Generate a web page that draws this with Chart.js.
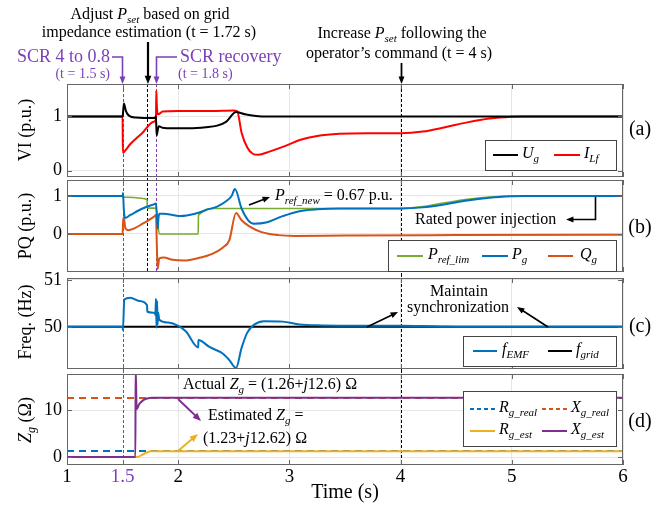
<!DOCTYPE html>
<html>
<head>
<meta charset="utf-8">
<script src="https://cdn.jsdelivr.net/npm/chart.js@4.4.1/dist/chart.umd.min.js"></script>
<style>
  body { margin: 0; background: #fff; }
  #wrap { position: relative; width: 666px; height: 508px; }
  canvas { position: absolute; left: 0; }
</style>
</head>
<body>
<div id="wrap">
  <canvas id="pa" width="666" height="178" style="top:0px"></canvas>
  <canvas id="pb" width="666" height="96" style="top:178px"></canvas>
  <canvas id="pc" width="666" height="108" style="top:262px"></canvas>
  <canvas id="pd" width="666" height="138" style="top:370px"></canvas>
</div>
<script>
// shared time axis
const timeTicks = [1, 1.5, 2, 3, 4, 5, 6];
const eventTimes = [1.5, 1.72, 1.8, 4];

// (a) voltage / current
const ugT = [1, 1.5, 1.506, 1.512, 1.53, 1.56, 1.62, 1.79, 1.8, 1.806, 1.812, 1.825, 1.86, 1.95, 2.1, 2.25, 2.35, 2.43, 2.52, 2.6, 2.7, 2.8, 3.0, 6];
const ugV = [1, 1, 1.12, 1.24, 1.1, 1.01, 0.98, 0.97, 1.0, 0.65, 0.7, 0.82, 0.79, 0.78, 0.78, 0.8, 0.83, 0.9, 1.08, 1.04, 1.01, 1.0, 1.0, 1.0];
const ilfT = [1, 1.5, 1.502, 1.52, 1.57, 1.68, 1.78, 1.8, 1.803, 1.806, 1.812, 1.82, 1.86, 2.0, 2.3, 2.5, 2.53, 2.57, 2.62, 2.67, 2.72, 2.82, 2.97, 3.1, 3.25, 3.45, 3.7, 4.0, 4.2, 4.4, 4.6, 4.8, 5.0, 5.1, 6];
const ilfV = [1, 1, 0.33, 0.36, 0.49, 0.7, 0.9, 0.94, 1.48, 1.3, 1.08, 1.04, 1.09, 1.1, 1.1, 1.11, 1.1, 0.7, 0.43, 0.31, 0.29, 0.35, 0.46, 0.57, 0.64, 0.68, 0.69, 0.69, 0.72, 0.8, 0.89, 0.96, 0.995, 1.0, 1.0];

// (b) active / reactive power
const pgT = [1, 1.5, 1.504, 1.51, 1.52, 1.57, 1.68, 1.78, 1.8, 1.808, 1.816, 1.822, 1.83, 1.87, 1.95, 2.02, 2.15, 2.28, 2.35, 2.43, 2.48, 2.51, 2.57, 2.63, 2.68, 2.79, 2.94, 3.09, 3.25, 3.45, 3.7, 4.0, 4.2, 4.4, 4.6, 4.8, 5.0, 5.1, 6];
const pgV = [1, 1, 1.08, 0.7, 0.42, 0.5, 0.67, 0.78, 0.8, 0.5, 0.14, 0.4, 0.53, 0.53, 0.5, 0.47, 0.53, 0.66, 0.72, 0.86, 1.0, 1.18, 0.67, 0.36, 0.27, 0.3, 0.47, 0.6, 0.65, 0.67, 0.67, 0.67, 0.7, 0.78, 0.88, 0.95, 0.99, 1.0, 1.0];
const prefT = [1, 1.5, 1.502, 1.72, 1.722, 1.8, 1.83, 2.18, 2.182, 2.33, 4.0, 4.2, 4.4, 4.6, 4.8, 4.98, 6];
const prefV = [1, 1, 0.97, 0.91, 0.68, 0.68, 0, 0, 0.49, 0.67, 0.67, 0.72, 0.82, 0.91, 0.97, 1.0, 1.0];
const qgT = [1, 1.5, 1.504, 1.51, 1.525, 1.55, 1.6, 1.68, 1.78, 1.8, 1.808, 1.815, 1.83, 1.87, 1.95, 2.05, 2.2, 2.3, 2.4, 2.46, 2.52, 2.57, 2.64, 2.75, 2.9, 3.05, 3.5, 4.5, 6];
const qgV = [0, 0, 0.3, 0.45, 0.15, 0.1, 0.14, 0.27, 0.45, 0.5, -0.3, -0.92, -0.64, -0.62, -0.68, -0.7, -0.62, -0.53, -0.36, -0.16, 0.55, 0.36, 0.2, 0.05, -0.03, -0.05, -0.04, -0.03, -0.02];

// (c) frequency
const femfT = [1, 1.5, 1.503, 1.515, 1.57, 1.65, 1.72, 1.722, 1.79, 1.795, 1.8, 1.805, 1.81, 1.815, 1.82, 1.83, 1.91, 2.0, 2.07, 2.18, 2.182, 2.28, 2.4, 2.46, 2.52, 2.57, 2.62, 2.68, 2.77, 2.94, 3.09, 3.3, 3.6, 4.0, 4.3, 4.6, 5.0, 6];
const femfV = [50, 50, 49.93, 50.58, 50.62, 50.55, 50.46, 50.32, 50.3, 50.25, 50.6, 49.98, 50.55, 50.05, 50.3, 50.15, 50.09, 50.02, 49.9, 49.56, 49.72, 49.57, 49.43, 49.29, 49.12, 49.55, 49.87, 50.04, 50.12, 50.11, 50.05, 50.03, 50.02, 50.02, 50.01, 50.0, 50.0, 50.0];
const fgridT = [1, 6];
const fgridV = [50, 50];

// (d) grid impedance
const rRealT = [1, 6];
const rRealV = [1.26, 1.26];
const xRealT = [1, 6];
const xRealV = [12.6, 12.6];
const rEstT = [1, 1.63, 1.69, 1.75, 6];
const rEstV = [0, 0, 0.65, 1.23, 1.23];
const xEstT = [1, 1.615, 1.617, 1.627, 1.65, 1.69, 1.73, 1.76, 6];
const xEstV = [0, 0, 19, 10.2, 11.3, 12.2, 12.55, 12.62, 12.62];

const SERIF = '"Liberation Serif", "Times New Roman", serif';
const PURPLE = '#7b3fb8';
const OFF = { pa: 0, pb: 178, pc: 262, pd: 370 };
const BAND = { pa: [84, 178], pb: [178, 274], pc: [274, 370], pd: [370, 508] };
Chart.defaults.font.family = SERIF;

function pts(t, v) { return t.map((x, i) => ({ x: x, y: v[i] })); }

// parts: [text, style] where style '' upright, 'i' italic, 's' italic subscript
function pfont(p, size) {
  const sub = p[1] === 's';
  const it = p[1] === 'i' || p[1] === 's';
  return (it ? 'italic ' : '') + (sub ? Math.round(size * 0.68) : size) + 'px ' + SERIF;
}
function rich(ctx, parts, x, y, size, align, color) {
  ctx.save();
  ctx.fillStyle = color || '#000';
  ctx.textBaseline = 'middle';
  ctx.textAlign = 'left';
  let w = 0;
  for (const p of parts) { ctx.font = pfont(p, size); w += ctx.measureText(p[0]).width; }
  let cx = align === 'center' ? x - w / 2 : (align === 'right' ? x - w : x);
  for (const p of parts) {
    ctx.font = pfont(p, size);
    ctx.fillText(p[0], cx, y + (p[1] === 's' ? size * 0.3 : 0));
    cx += ctx.measureText(p[0]).width;
  }
  ctx.restore();
}
function arrow(ctx, path, color, lw, head) {
  ctx.save();
  ctx.strokeStyle = color; ctx.fillStyle = color; ctx.lineWidth = lw; ctx.setLineDash([]);
  const n = path.length;
  const [x2, y2] = path[n - 1], [x1, y1] = path[n - 2];
  const a = Math.atan2(y2 - y1, x2 - x1);
  ctx.beginPath();
  ctx.moveTo(path[0][0], path[0][1]);
  for (let i = 1; i < n - 1; i++) ctx.lineTo(path[i][0], path[i][1]);
  ctx.lineTo(x2 - head * 0.7 * Math.cos(a), y2 - head * 0.7 * Math.sin(a));
  ctx.stroke();
  ctx.beginPath();
  ctx.moveTo(x2, y2);
  ctx.lineTo(x2 - head * Math.cos(a - 0.38), y2 - head * Math.sin(a - 0.38));
  ctx.lineTo(x2 - head * Math.cos(a + 0.38), y2 - head * Math.sin(a + 0.38));
  ctx.closePath(); ctx.fill();
  ctx.restore();
}
function legendBox(ctx, x1, y1, x2, y2) {
  ctx.save();
  ctx.fillStyle = '#fff'; ctx.fillRect(x1, y1, x2 - x1, y2 - y1);
  ctx.strokeStyle = '#444'; ctx.lineWidth = 1;
  ctx.strokeRect(x1 + 0.5, y1 + 0.5, x2 - x1, y2 - y1);
  ctx.restore();
}
function legendLine(ctx, x1, x2, y, color, dash) {
  ctx.save();
  ctx.strokeStyle = color; ctx.lineWidth = 2; ctx.setLineDash(dash ? [4, 3] : []);
  ctx.beginPath(); ctx.moveTo(x1, y); ctx.lineTo(x2, y); ctx.stroke();
  ctx.restore();
}
function yTitle(ctx, parts, x, y) {
  ctx.save();
  ctx.translate(x, y); ctx.rotate(-Math.PI / 2);
  rich(ctx, parts, 0, 0, 18, 'center');
  ctx.restore();
}

const eventStyle = [[PURPLE, 465], ['#000', 272], [PURPLE, 272], ['#000', 465]];

const deco = {
  id: 'deco',
  beforeDatasetsDraw(chart) {
    const ctx = chart.ctx, id = chart.canvas.id, off = OFF[id];
    const xs = chart.scales.x;
    eventTimes.forEach((t, i) => {
      const px = Math.round(xs.getPixelForValue(t)) + 0.5;
      const y1 = BAND[id][0] - off, y2 = Math.min(eventStyle[i][1], BAND[id][1]) - off;
      if (y2 <= y1) return;
      ctx.save();
      ctx.strokeStyle = eventStyle[i][0]; ctx.lineWidth = 1; ctx.setLineDash([3, 2]);
      ctx.beginPath(); ctx.moveTo(px, y1); ctx.lineTo(px, y2); ctx.stroke();
      ctx.restore();
    });
  },
  afterDraw(chart) {
    const ctx = chart.ctx, id = chart.canvas.id, off = OFF[id];
    const a = chart.chartArea, xs = chart.scales.x, ys = chart.scales.y;
    // frame and inside tick marks
    ctx.save();
    ctx.strokeStyle = '#666'; ctx.lineWidth = 1;
    ctx.strokeRect(a.left + 0.5, a.top + 0.5, a.right - a.left - 1, a.bottom - a.top - 1);
    ctx.beginPath();
    xs.ticks.forEach(t => {
      const px = Math.round(xs.getPixelForValue(t.value)) + 0.5;
      ctx.moveTo(px, a.top); ctx.lineTo(px, a.top + 5);
      ctx.moveTo(px, a.bottom); ctx.lineTo(px, a.bottom - 5);
    });
    ys.ticks.forEach(t => {
      const py = Math.round(ys.getPixelForValue(t.value)) + 0.5;
      ctx.moveTo(a.left, py); ctx.lineTo(a.left + 5, py);
      ctx.moveTo(a.right, py); ctx.lineTo(a.right - 5, py);
    });
    ctx.stroke();
    ctx.restore();

    const Y = v => v - off;
    if (id === 'pa') {
      rich(ctx, [['Adjust ', ''], ['P', 'i'], ['set', 's'], [' based on grid', '']], 150, 15, 16, 'center');
      rich(ctx, [['impedance estimation (t = 1.72 s)', '']], 149, 33, 16, 'center');
      arrow(ctx, [[148, 42], [148, 84]], '#000', 2.2, 9);
      rich(ctx, [['SCR 4 to 0.8', '']], 110, 57, 18, 'right', PURPLE);
      rich(ctx, [['(t = 1.5 s)', '']], 110, 74, 14, 'right', PURPLE);
      arrow(ctx, [[112, 57], [122.5, 57], [122.5, 84]], PURPLE, 1.6, 8);
      rich(ctx, [['SCR recovery', '']], 180, 57, 18, 'left', PURPLE);
      rich(ctx, [['(t = 1.8 s)', '']], 178, 74, 14, 'left', PURPLE);
      arrow(ctx, [[177, 57], [156.5, 57], [156.5, 84]], PURPLE, 1.6, 8);
      rich(ctx, [['Increase ', ''], ['P', 'i'], ['set', 's'], [' following the', '']], 402, 34, 16, 'center');
      rich(ctx, [['operator\u2019s command (t = 4 s)', '']], 399, 54, 16, 'center');
      arrow(ctx, [[401.5, 63], [401.5, 84]], '#000', 1.8, 8);
      legendBox(ctx, 485, Y(140), 616, Y(170));
      legendLine(ctx, 493, 518, Y(155), '#000');
      rich(ctx, [['U', 'i'], ['g', 's']], 522, Y(154), 16, 'left');
      legendLine(ctx, 554, 580, Y(155), '#ff0000');
      rich(ctx, [['I', 'i'], ['Lf', 's']], 584, Y(154), 16, 'left');
      rich(ctx, [['(a)', '']], 640, Y(130), 20, 'center');
      yTitle(ctx, [['VI (p.u.)', '']], 26, Y(130));
    } else if (id === 'pb') {
      arrow(ctx, [[249, Y(205)], [270, Y(197)]], '#000', 1.8, 8);
      rich(ctx, [['P', 'i'], ['ref_new', 's'], [' = 0.67 p.u.', '']], 275, Y(196), 16, 'left');
      rich(ctx, [['Rated power injection', '']], 415, Y(220), 16, 'left');
      arrow(ctx, [[595.5, Y(197)], [595.5, Y(219.5)], [566, Y(219.5)]], '#000', 1.6, 8);
      legendBox(ctx, 388, Y(240), 616, Y(271));
      legendLine(ctx, 397, 423, Y(256), '#77ac30');
      rich(ctx, [['P', 'i'], ['ref_lim', 's']], 428, Y(255), 16, 'left');
      legendLine(ctx, 482, 508, Y(256), '#0072bd');
      rich(ctx, [['P', 'i'], ['g', 's']], 512, Y(255), 16, 'left');
      legendLine(ctx, 548, 573, Y(256), '#d95319');
      rich(ctx, [['Q', 'i'], ['g', 's']], 580, Y(255), 16, 'left');
      rich(ctx, [['(b)', '']], 640, Y(228), 20, 'center');
      yTitle(ctx, [['PQ (p.u.)', '']], 26, Y(226));
    } else if (id === 'pc') {
      rich(ctx, [['Maintain', '']], 459, Y(292), 16, 'center');
      rich(ctx, [['synchronization', '']], 458, Y(308), 16, 'center');
      arrow(ctx, [[367, Y(327)], [398, Y(312)]], '#000', 1.6, 8);
      arrow(ctx, [[548, Y(327)], [517, Y(307)]], '#000', 1.6, 8);
      legendBox(ctx, 463, Y(336), 616, Y(366));
      legendLine(ctx, 473, 497, Y(351), '#0072bd');
      rich(ctx, [['f', 'i'], ['EMF', 's']], 502, Y(350), 16, 'left');
      legendLine(ctx, 548, 572, Y(351), '#000');
      rich(ctx, [['f', 'i'], ['grid', 's']], 576, Y(350), 16, 'left');
      rich(ctx, [['(c)', '']], 640, Y(327), 20, 'center');
      yTitle(ctx, [['Freq. (Hz)', '']], 26, Y(322));
    } else if (id === 'pd') {
      rich(ctx, [['Actual ', ''], ['Z', 'i'], ['g', 's'], [' = (1.26+', ''], ['j', 'i'], ['12.6) \u03a9', '']], 183, Y(385), 16, 'left');
      arrow(ctx, [[178, Y(399)], [201, Y(421)]], '#7e2f8e', 2, 9);
      rich(ctx, [['Estimated ', ''], ['Z', 'i'], ['g', 's'], [' =', '']], 208, Y(416), 16, 'left');
      rich(ctx, [['(1.23+', ''], ['j', 'i'], ['12.62) \u03a9', '']], 203, Y(439), 16, 'left');
      arrow(ctx, [[178, Y(451)], [198, Y(434)]], '#edb120', 2, 9);
      legendBox(ctx, 463, Y(391), 616, Y(446));
      legendLine(ctx, 470, 495, Y(409), '#0072bd', true);
      rich(ctx, [['R', 'i'], ['g_real', 's']], 499, Y(408), 16, 'left');
      legendLine(ctx, 542, 567, Y(409), '#d95319', true);
      rich(ctx, [['X', 'i'], ['g_real', 's']], 571, Y(408), 16, 'left');
      legendLine(ctx, 470, 495, Y(431), '#edb120');
      rich(ctx, [['R', 'i'], ['g_est', 's']], 499, Y(430), 16, 'left');
      legendLine(ctx, 542, 567, Y(431), '#7e2f8e');
      rich(ctx, [['X', 'i'], ['g_est', 's']], 571, Y(430), 16, 'left');
      rich(ctx, [['(d)', '']], 640, Y(422), 20, 'center');
      yTitle(ctx, [['Z', 'i'], ['g', 's'], [' (\u03a9)', '']], 26, Y(420));
    }
  }
};

function makeChart(id, padTop, xH, yMin, yMax, yTicks, datasets, showX) {
  return new Chart(document.getElementById(id), {
    type: 'line',
    data: { datasets: datasets },
    options: {
      responsive: false,
      animation: false,
      events: [],
      layout: { padding: { top: padTop, left: 0, right: 43, bottom: 0 } },
      plugins: { legend: { display: false }, tooltip: { enabled: false } },
      elements: {
        point: { radius: 0 },
        line: { borderWidth: 2, cubicInterpolationMode: 'monotone', fill: false }
      },
      scales: {
        x: {
          type: 'linear', min: 1, max: 6,
          afterBuildTicks: s => { s.ticks = timeTicks.map(v => ({ value: v })); },
          afterFit: s => { s.height = xH; s.paddingLeft = 0; s.paddingRight = 0; },
          grid: { drawTicks: false, color: c => (c.tick && c.tick.value === 1.5) ? 'rgba(0,0,0,0)' : '#e6e6e6' },
          border: { display: false },
          ticks: {
            display: showX, autoSkip: false, maxRotation: 0, padding: 1,
            font: { size: 19 },
            color: c => (c.tick && c.tick.value === 1.5) ? PURPLE : '#000',
            callback: v => String(v)
          },
          title: { display: showX, text: 'Time (s)', color: '#000', font: { size: 20 }, padding: { top: 0, bottom: 3 } }
        },
        y: {
          min: yMin, max: yMax,
          afterBuildTicks: s => { s.ticks = yTicks.map(v => ({ value: v })); },
          afterFit: s => { s.width = 67; s.paddingTop = 0; s.paddingBottom = 0; },
          grid: { drawTicks: false, color: '#e6e6e6' },
          border: { display: false },
          ticks: { padding: 5, font: { size: 18 }, color: '#000', callback: v => String(v) }
        }
      }
    },
    plugins: [deco]
  });
}

makeChart('pa', 84, 1, -0.12, 1.6, [0, 1], [
  { data: pts(ugT, ugV), borderColor: '#000000' },
  { data: pts(ilfT, ilfV), borderColor: '#ff0000' }
], false);

makeChart('pb', 2, 2, -1.0, 1.42, [0, 1], [
  { data: pts(pgT, pgV), borderColor: '#0072bd' },
  { data: pts(prefT, prefV), borderColor: '#77ac30', borderWidth: 1.6 },
  { data: pts(qgT, qgV), borderColor: '#d95319' }
], false);

makeChart('pc', 16, 1, 49.1, 51.04, [50, 51], [
  { data: pts(femfT, femfV), borderColor: '#0072bd' },
  { data: pts(fgridT, fgridV), borderColor: '#000000' }
], false);

makeChart('pd', 4, 43, -1.7, 17.7, [0, 10], [
  { data: pts(xEstT, xEstV), borderColor: '#7e2f8e' },
  { data: pts(rEstT, rEstV), borderColor: '#edb120' },
  { data: pts(xRealT, xRealV), borderColor: '#d95319', borderDash: [7, 5] },
  { data: pts(rRealT, rRealV), borderColor: '#0072bd', borderDash: [7, 5] }
], true);
</script>
</body>
</html>
